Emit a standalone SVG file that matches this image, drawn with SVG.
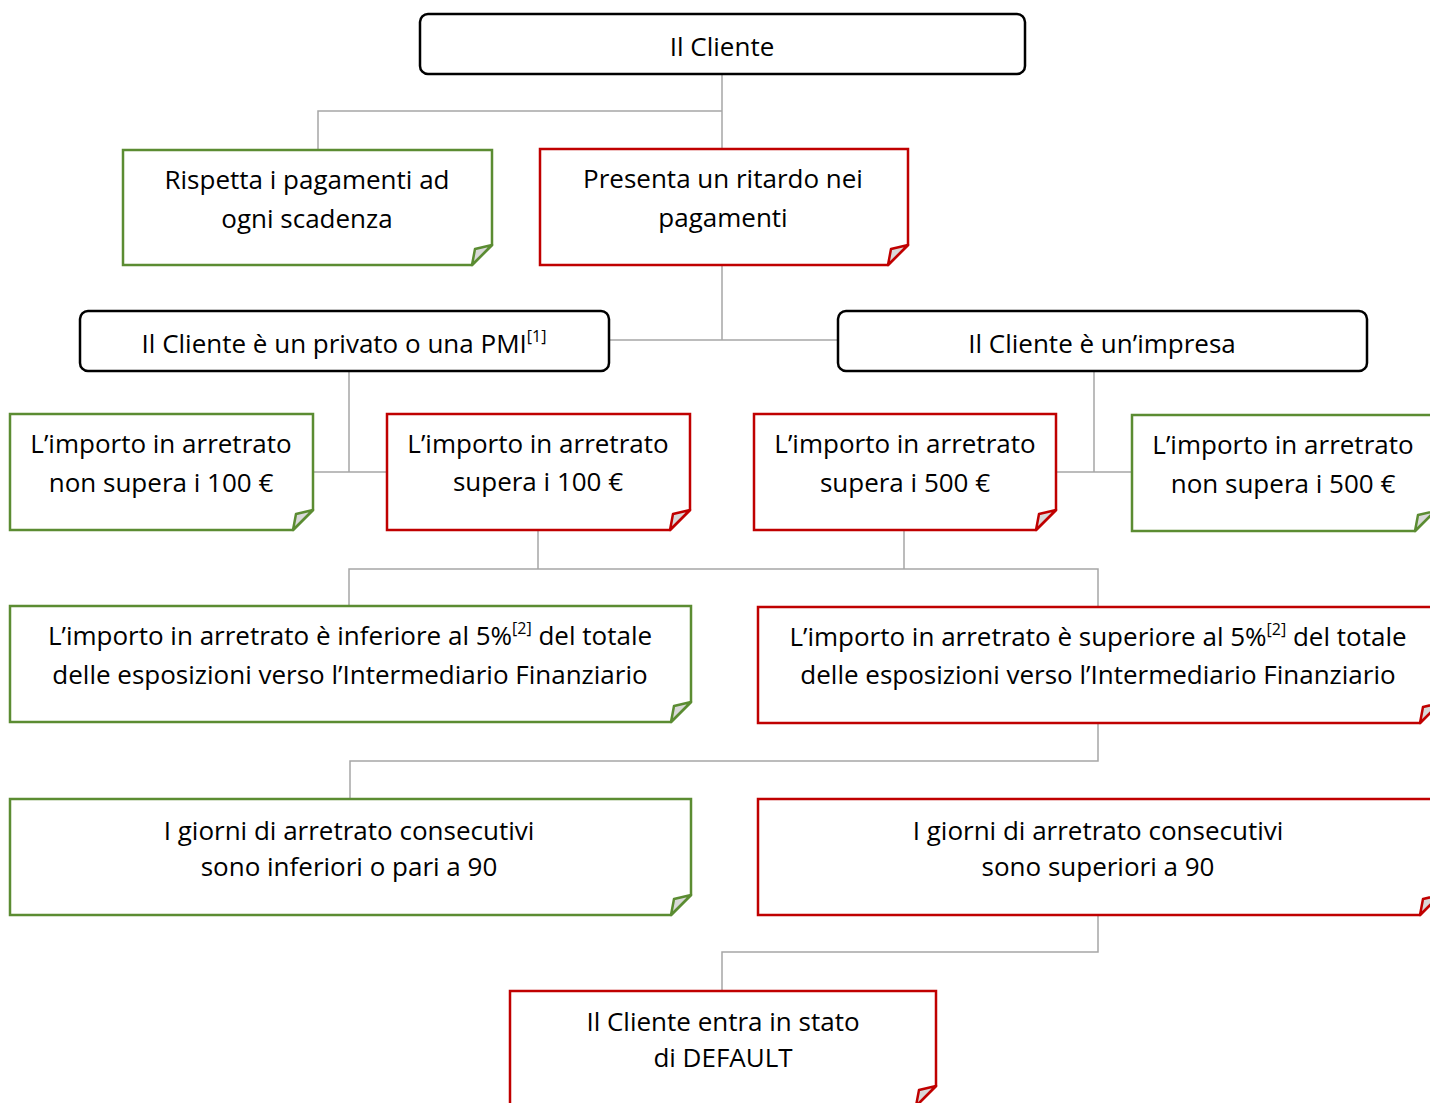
<svg xmlns="http://www.w3.org/2000/svg" width="1430" height="1103" viewBox="0 0 1430 1103">
<style>
text{font-family:"Open Sans","Liberation Sans",sans-serif;font-size:26px;fill:#000;text-anchor:middle}
.r{fill:#fff;stroke:#000;stroke-width:2.5}
.g{fill:#fff;stroke:#5B8C32;stroke-width:2.5}
.d{fill:#fff;stroke:#C00000;stroke-width:2.5}
.gf{fill:#D9D9D9;stroke:#5B8C32;stroke-width:2.5;stroke-linejoin:round}
.df{fill:#D9D9D9;stroke:#C00000;stroke-width:2.5;stroke-linejoin:round}
.c{fill:none;stroke:#A6A6A6;stroke-width:1.5}
.s{font-size:16px}
</style>
<g id="connectors">
<path class="c" d="M722 74V149M318 150V111H722"/>
<path class="c" d="M722 265V340M609 340H838"/>
<path class="c" d="M349 371V472M313 472H387"/>
<path class="c" d="M1094 371V472M1056 472H1132"/>
<path class="c" d="M538 530V569M904 530V569M349 606V569H1098V607"/>
<path class="c" d="M1098 723V761H350V799"/>
<path class="c" d="M1098 915V952H722V991"/>
</g>
<g id="n1"><rect class="r" x="420" y="14" width="605" height="60" rx="8"/><text x="722" y="56">Il Cliente</text></g>
<g id="n2"><path class="g" d="M123 150H492V245L472 265H123Z"/><path class="gf" d="M492 245L475 249L472 265Z"/><text x="307" y="189">Rispetta i pagamenti ad</text><text x="307" y="228">ogni scadenza</text></g>
<g id="n3"><path class="d" d="M540 149H908V245L888 265H540Z"/><path class="df" d="M908 245L891 249L888 265Z"/><text x="723" y="188">Presenta un ritardo nei</text><text x="723" y="227">pagamenti</text></g>
<g id="n4"><rect class="r" x="80" y="311" width="529" height="60" rx="8"/><text x="344" y="353">Il Cliente è un privato o una PMI<tspan class="s" dy="-11">[1]</tspan></text></g>
<g id="n5"><rect class="r" x="838" y="311" width="529" height="60" rx="8"/><text x="1102" y="353">Il Cliente è un’impresa</text></g>
<g id="n6"><path class="g" d="M10 414H313V510L293 530H10Z"/><path class="gf" d="M313 510L296 514L293 530Z"/><text x="161" y="453">L’importo in arretrato</text><text x="161" y="492">non supera i 100 €</text></g>
<g id="n7"><path class="d" d="M387 414H690V510L670 530H387Z"/><path class="df" d="M690 510L673 514L670 530Z"/><text x="538" y="453">L’importo in arretrato</text><text x="538" y="491">supera i 100 €</text></g>
<g id="n8"><path class="d" d="M754 414H1056V510L1036 530H754Z"/><path class="df" d="M1056 510L1039 514L1036 530Z"/><text x="905" y="453">L’importo in arretrato</text><text x="905" y="492">supera i 500 €</text></g>
<g id="n9"><path class="g" d="M1132 415H1435V511L1415 531H1132Z"/><path class="gf" d="M1435 511L1418 515L1415 531Z"/><text x="1283" y="454">L’importo in arretrato</text><text x="1283" y="493">non supera i 500 €</text></g>
<g id="n10"><path class="g" d="M10 606H691V702L671 722H10Z"/><path class="gf" d="M691 702L674 706L671 722Z"/><text x="350" y="645">L’importo in arretrato è inferiore al 5%<tspan class="s" dy="-11">[2]</tspan><tspan dy="11"> del totale</tspan></text><text x="350" y="684">delle esposizioni verso l’Intermediario Finanziario</text></g>
<g id="n11"><path class="d" d="M758 607H1440V703L1420 723H758Z"/><path class="df" d="M1440 703L1423 707L1420 723Z"/><text x="1098" y="646">L’importo in arretrato è superiore al 5%<tspan class="s" dy="-11">[2]</tspan><tspan dy="11"> del totale</tspan></text><text x="1098" y="684">delle esposizioni verso l’Intermediario Finanziario</text></g>
<g id="n12"><path class="g" d="M10 799H691V895L671 915H10Z"/><path class="gf" d="M691 895L674 899L671 915Z"/><text x="349" y="840">I giorni di arretrato consecutivi</text><text x="349" y="876">sono inferiori o pari a 90</text></g>
<g id="n13"><path class="d" d="M758 799H1440V895L1420 915H758Z"/><path class="df" d="M1440 895L1423 899L1420 915Z"/><text x="1098" y="840">I giorni di arretrato consecutivi</text><text x="1098" y="876">sono superiori a 90</text></g>
<g id="n14"><path class="d" d="M510 991H936V1086L916 1106H510Z"/><path class="df" d="M936 1086L919 1090L916 1106Z"/><text x="723" y="1031">Il Cliente entra in stato</text><text x="723" y="1067">di DEFAULT</text></g>
</svg>
